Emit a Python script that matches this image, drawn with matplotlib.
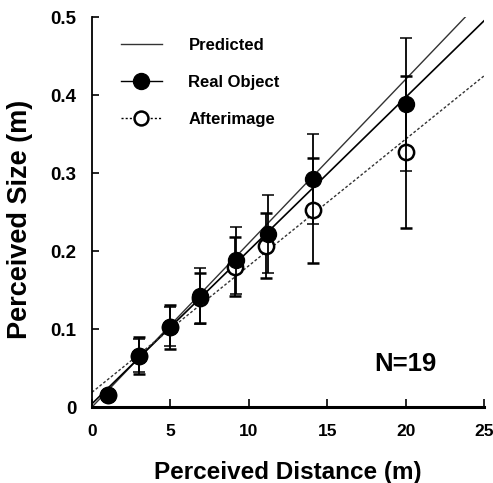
import matplotlib.pyplot as plt
import numpy as np
from matplotlib.lines import Line2D

plt.rcParams['font.family'] = ['Liberation Sans', 'DejaVu Sans']
plt.rcParams['font.weight'] = 'bold'

# perceived distance (m) and perceived size (m)
real_x = [1.0, 3.0, 5.0, 6.9, 9.2, 11.2, 14.1, 20.0]
real_y = [0.015, 0.066, 0.103, 0.142, 0.188, 0.222, 0.292, 0.388]
real_err = [0.003, 0.021, 0.025, 0.036, 0.043, 0.050, 0.058, 0.085]

after_x = [1.0, 3.0, 5.0, 6.9, 9.1, 11.1, 14.1, 20.0]
after_y = [0.015, 0.066, 0.103, 0.140, 0.180, 0.207, 0.252, 0.327]
after_err = [0.003, 0.024, 0.028, 0.032, 0.038, 0.042, 0.067, 0.097]

pred_slope = 0.021
n_subj = 19

fig = plt.figure(figsize=(4.93, 4.83), dpi=100)
ax = fig.add_axes([0.1866, 0.1573, 0.7951, 0.8075])

xx = np.array([0, 25])

# fitted lines
k_r, b_r = np.polyfit(real_x, real_y, 1)
k_a, b_a = np.polyfit(after_x, after_y, 1)
ax.plot(xx, pred_slope * xx, color='#333333', lw=1.0, zorder=2)
ax.plot(xx, k_r * xx + b_r, color='black', lw=1.2, zorder=2)
ax.plot(xx, k_a * xx + b_a, color='#333333', lw=1.0, ls=(0, (2, 1.5)), zorder=2)

ax.errorbar(after_x, after_y, yerr=after_err, fmt='o', ms=11, mfc='white', mec='black',
            mew=1.8, ecolor='black', elinewidth=1.3, capsize=4.3, capthick=1.1, zorder=3)
ax.errorbar(real_x, real_y, yerr=real_err, fmt='o', ms=11.5, mfc='black', mec='black',
            ecolor='black', elinewidth=1.3, capsize=4.3, capthick=1.1, zorder=4)

ax.set_xlim(0, 25)
ax.set_ylim(0, 0.5)
ax.set_xticks([0, 5, 10, 15, 20, 25])
ax.set_yticks([0, 0.1, 0.2, 0.3, 0.4, 0.5])
ax.set_yticklabels(['0', '0.1', '0.2', '0.3', '0.4', '0.5'])
ax.tick_params(direction='in', width=1.2)
ax.tick_params(axis='x', length=6, pad=12, labelsize=12.5)
ax.tick_params(axis='y', length=5, pad=11, labelsize=13.5)

for s in ['top', 'right']:
    ax.spines[s].set_visible(False)
ax.spines['bottom'].set_linewidth(2.2)
ax.spines['left'].set_linewidth(1.3)

ax.set_xlabel('Perceived Distance (m)', fontsize=17.5, fontweight='bold', labelpad=16)
ax.set_ylabel('Perceived Size (m)', fontsize=19.5, fontweight='bold')
ax.yaxis.set_label_coords(-0.150, 0.482)

ax.text(20.0, 0.055, 'N=%d' % n_subj, fontsize=18.5, fontweight='bold', ha='center', va='center')

handles = [
    Line2D([], [], color='#333333', lw=1.0),
    Line2D([], [], color='black', lw=1.0, marker='o', ms=11.5, mfc='black', mec='black'),
    Line2D([], [], color='black', lw=1.0, ls=(0, (1.5, 1.5)), marker='o', ms=10,
           mfc='white', mec='black', mew=1.8),
]
ax.legend(handles, ['Predicted', 'Real Object', 'Afterimage'], loc='upper left',
          bbox_to_anchor=(0.035, 0.985), frameon=False, handlelength=2.46,
          handletextpad=1.6, labelspacing=1.32, prop={'weight': 'bold', 'size': 12})

fig.savefig('out.png', dpi=100)
